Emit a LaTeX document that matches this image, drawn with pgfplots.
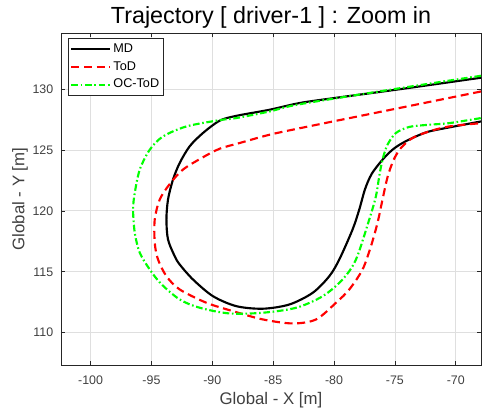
\documentclass[border=0pt]{standalone}
\usepackage{fontspec}
\setmainfont{Liberation Sans}
\usepackage{pgfplots}
\pgfplotsset{compat=1.18}
\definecolor{gridc}{RGB}{223,223,223}
\definecolor{axc}{RGB}{38,38,38}
\definecolor{tickc}{RGB}{64,64,64}
\begin{document}
\begin{tikzpicture}
\begin{axis}[
  scale only axis,
  width=315pt, height=249pt,
  xmin=-102.43, xmax=-67.93, ymin=107.35, ymax=134.6,
  xtick={-100,-95,-90,-85,-80,-75,-70},
  xticklabels={-100,-95,-90,-85,-80,-75,-70},
  ytick={110,115,120,125,130},
  yticklabels={110,115,120,125,130},
  tick align=inside,
  major tick length=3pt,
  tick style={axc, line width=0.5pt},
  axis line style={axc, line width=0.6pt},
  grid=major,
  major grid style={gridc, line width=0.6pt},
  xticklabel style={font=\fontsize{9.3}{11}\selectfont, text=tickc, anchor=base, yshift=-14.6pt},
  yticklabel style={font=\fontsize{9.3}{11}\selectfont, text=tickc, anchor=east, xshift=-2.3pt},
  xlabel={Global - X [m]},
  ylabel={Global - Y [m]},
  xlabel style={font=\fontsize{12.6}{14}\selectfont, text=tickc, at={(axis description cs:0.5,-0.105)}, anchor=center},
  ylabel style={font=\fontsize{12.6}{14}\selectfont, text=tickc, at={(axis description cs:-0.0976,0.5)}, anchor=center},
  title={Trajectory [ driver-1 ] : Zoom in},
  every axis title/.style={font=\fontsize{17.5}{20}\selectfont, at={(axis description cs:0.5,1.029)}, anchor=base},
  legend style={at={(axis description cs:0.0167,0.985)}, anchor=north west,
    font=\fontsize{9.5}{11}\selectfont, draw=axc, line width=0.5pt, inner sep=1.5pt,
    row sep=0pt,
    nodes={inner sep=2pt, text height=7pt, text depth=2.3pt},
    /tikz/every even column/.append style={column sep=0pt}},
  legend cell align=left,
  legend image code/.code={\draw[#1] (0pt,0pt) -- (28.7pt,0pt);},
  clip=true,
]
\addplot[black, line width=1.6pt, smooth] coordinates {
(-67.93,130.93) (-74.65,129.98) (-80.14,129.24) (-82.84,128.85) (-85.30,128.30)
(-88.03,127.80) (-89.40,127.40) (-90.77,126.39) (-91.86,125.30) (-92.68,123.93)
(-93.23,122.57) (-93.64,120.93) (-93.77,119.29) (-93.64,117.65) (-93.09,116.28)
(-92.68,115.60) (-91.59,114.37) (-89.95,113.00) (-88.03,112.18) (-85.85,111.97)
(-83.66,112.32) (-81.75,113.28) (-80.39,114.64) (-79.57,116.01) (-78.48,118.47)
(-77.93,120.11) (-77.45,121.80) (-76.90,123.05) (-76.02,124.20) (-75.20,125.02)
(-74.38,125.57) (-73.28,126.11) (-72.19,126.52) (-70.55,126.85) (-67.93,127.34)
};
\addlegendentry{MD}
\addplot[red, line width=1.6pt, smooth, dash pattern=on 6pt off 3.5pt] coordinates {
(-67.93,129.80) (-74.65,128.44) (-82.30,126.89) (-85.30,126.25) (-87.76,125.57)
(-89.40,125.10) (-90.77,124.40) (-92.41,123.39) (-93.50,122.20) (-94.32,120.93)
(-94.73,119.29) (-94.73,117.38) (-94.46,116.01) (-93.77,114.64) (-92.68,113.55)
(-90.49,112.46) (-88.31,111.77) (-85.85,111.09) (-83.39,110.76) (-81.48,111.09)
(-79.84,112.46) (-78.75,113.55) (-77.66,115.19) (-76.97,117.10) (-76.43,119.02)
(-76.02,120.93) (-75.60,122.80) (-75.10,124.20) (-74.51,125.16) (-73.56,125.98)
(-72.19,126.52) (-70.55,126.93) (-67.93,127.20)
};
\addlegendentry{ToD}
\addplot[green, line width=1.6pt, smooth, dash pattern=on 5pt off 2pt on 1.2pt off 2pt] coordinates {
(-67.93,131.09) (-74.65,130.06) (-82.84,128.75) (-85.30,128.16) (-88.03,127.62)
(-89.40,127.45) (-92.13,126.93) (-94.05,126.11) (-95.14,125.02) (-95.96,123.39)
(-96.37,121.48) (-96.51,120.11) (-96.37,118.20) (-95.96,116.56) (-95.14,115.19)
(-94.20,114.00) (-92.68,112.73) (-91.04,112.05) (-88.58,111.58) (-85.85,111.64)
(-83.11,112.05) (-80.93,113.00) (-79.30,114.37) (-78.20,116.01) (-77.11,119.29)
(-76.56,121.20) (-76.29,122.84) (-76.02,124.20) (-75.61,125.43) (-74.92,126.39)
(-73.83,126.89) (-72.19,127.07) (-70.55,127.20) (-67.93,127.62)
};
\addlegendentry{OC-ToD}
\end{axis}
\pgfresetboundingbox
\path ([xshift=-45.75pt, yshift=-36.75pt]current axis.south west) rectangle ([xshift=0.75pt, yshift=24.75pt]current axis.north east);
\end{tikzpicture}
\end{document}
